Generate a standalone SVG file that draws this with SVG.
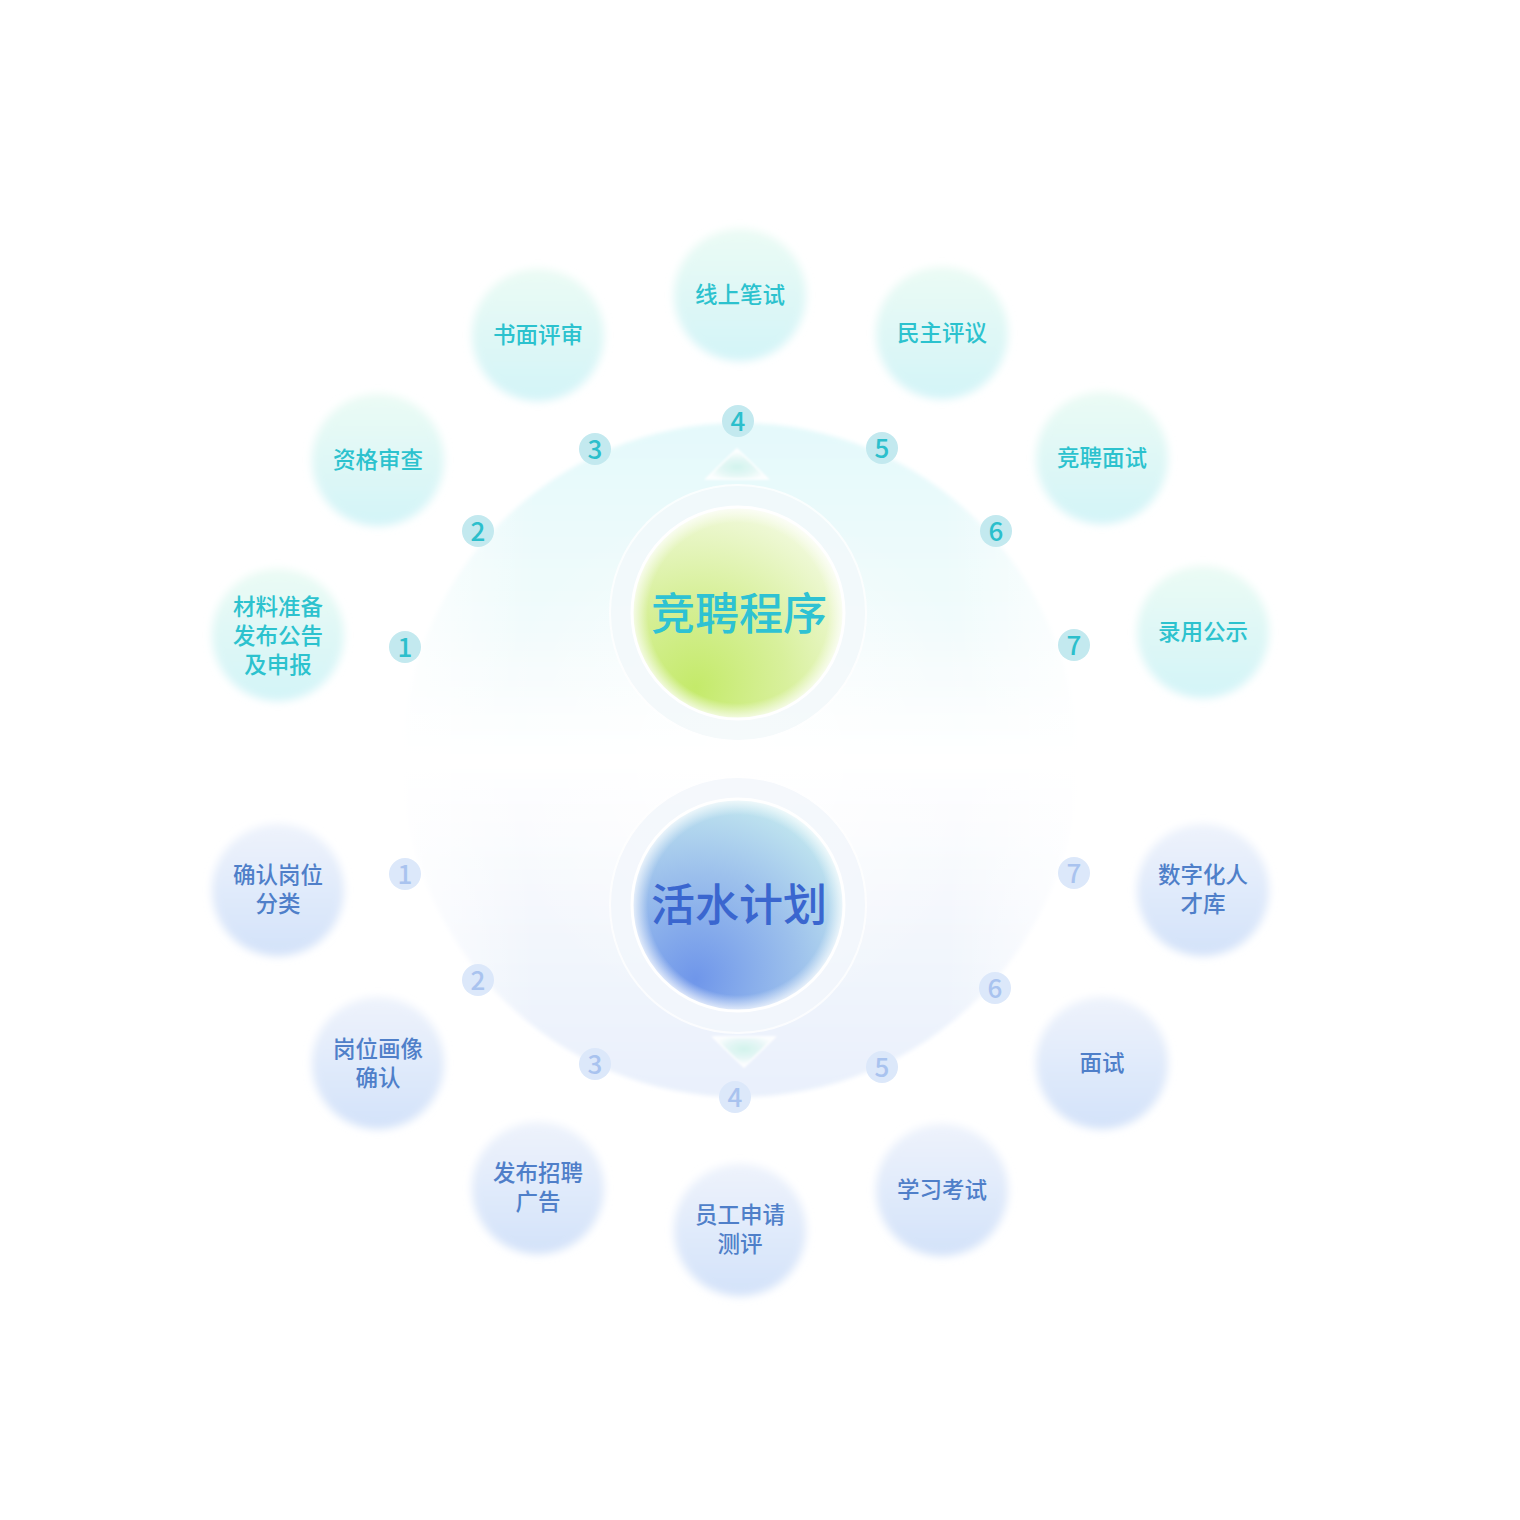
<svg xmlns="http://www.w3.org/2000/svg" width="1520" height="1520" viewBox="0 0 1520 1520">
<defs>
  <linearGradient id="gNodeTop" x1="0" y1="0" x2="0" y2="1">
    <stop offset="0" stop-color="#ebfbf4"/>
    <stop offset="1" stop-color="#d3f4f8"/>
  </linearGradient>
  <linearGradient id="gNodeBot" x1="0" y1="0" x2="0" y2="1">
    <stop offset="0" stop-color="#eef3fc"/>
    <stop offset="1" stop-color="#d3e2f9"/>
  </linearGradient>
  <linearGradient id="gRing" x1="0" y1="0" x2="0" y2="1">
    <stop offset="0" stop-color="#e4f9fb"/>
    <stop offset="0.3" stop-color="#f1fbfc"/>
    <stop offset="0.5" stop-color="#ffffff"/>
    <stop offset="0.7" stop-color="#f5f8fd"/>
    <stop offset="1" stop-color="#e9f0fc"/>
  </linearGradient>
  <radialGradient id="gRingFade" cx="0.5" cy="0.5" r="0.5">
    <stop offset="0" stop-color="#ffffff" stop-opacity="0.9"/>
    <stop offset="0.6" stop-color="#ffffff" stop-opacity="0.3"/>
    <stop offset="1" stop-color="#ffffff" stop-opacity="0"/>
  </radialGradient>
  <linearGradient id="gSideFade" x1="0" y1="0" x2="1" y2="0">
    <stop offset="0" stop-color="#ffffff" stop-opacity="0.8"/>
    <stop offset="0.2" stop-color="#ffffff" stop-opacity="0"/>
    <stop offset="0.8" stop-color="#ffffff" stop-opacity="0"/>
    <stop offset="1" stop-color="#ffffff" stop-opacity="0.8"/>
  </linearGradient>
  <radialGradient id="gGreen" cx="0.3" cy="0.8" r="0.95" fx="0.3" fy="0.85">
    <stop offset="0" stop-color="#c4ea6a"/>
    <stop offset="0.45" stop-color="#d8f09c"/>
    <stop offset="1" stop-color="#f8fcee"/>
  </radialGradient>
  <radialGradient id="gBlue" cx="0.3" cy="0.8" r="0.95" fx="0.3" fy="0.85">
    <stop offset="0" stop-color="#6f96ea"/>
    <stop offset="0.5" stop-color="#9cc0ec"/>
    <stop offset="1" stop-color="#cdf2f0"/>
  </radialGradient>
  <radialGradient id="gEdgeGlow" cx="0.5" cy="0.5" r="0.5">
    <stop offset="0.85" stop-color="#ffffff" stop-opacity="0"/>
    <stop offset="1" stop-color="#ffffff" stop-opacity="0.8"/>
  </radialGradient>
  <radialGradient id="gTri" cx="0.5" cy="0.6" r="0.5">
    <stop offset="0" stop-color="#d2f3ee"/>
    <stop offset="0.6" stop-color="#e6f8f6"/>
    <stop offset="1" stop-color="#fbfefe"/>
  </radialGradient>
  <radialGradient id="gTri2" cx="0.5" cy="0.4" r="0.5">
    <stop offset="0" stop-color="#d2f3ec"/>
    <stop offset="0.6" stop-color="#e6f6f6"/>
    <stop offset="1" stop-color="#fbfdfe"/>
  </radialGradient>
  <filter id="soft" x="-20%" y="-20%" width="140%" height="140%">
    <feGaussianBlur stdDeviation="4"/>
  </filter>
  <filter id="softer" x="-20%" y="-20%" width="140%" height="140%">
    <feGaussianBlur stdDeviation="0.8"/>
  </filter>
  <filter id="ringBlur" x="-10%" y="-10%" width="120%" height="120%">
    <feGaussianBlur stdDeviation="2"/>
  </filter>
</defs>
<style>
  text { font-family: "Noto Sans CJK SC", "Noto Sans", sans-serif; text-anchor: middle; font-weight: 500; }
  .lt { font-size: 22.5px; fill: #2cc2ce; }
  .lb { font-size: 22.5px; fill: #4f7fc9; }
  .nt { font-size: 26px; fill: #2cbfcc; }
  .nb { font-size: 26px; fill: #a9c3ef; }
  .bt { fill: #c3e9ef; }
  .bb { fill: #dce8fa; }
  .ct { font-size: 44px; fill: #2ec2d3; }
  .cb { font-size: 44px; fill: #3a66cf; }
  .node-top { fill: url(#gNodeTop); filter: url(#soft); }
  .node-bot { fill: url(#gNodeBot); filter: url(#soft); }
</style>
<rect width="1520" height="1520" fill="#ffffff"/>

<g id="connectors">
  <circle cx="740" cy="760" r="337" fill="url(#gRing)" filter="url(#ringBlur)"/>
  <rect x="400" y="420" width="680" height="680" fill="url(#gSideFade)"/>
  <circle cx="740" cy="760" r="260" fill="url(#gRingFade)"/>
</g>

<g id="badges-top">
  <circle class="bt" cx="405" cy="647" r="16"/><text class="nt" x="405" y="657">1</text>
  <circle class="bt" cx="478" cy="531" r="16"/><text class="nt" x="478" y="541">2</text>
  <circle class="bt" cx="595" cy="449" r="16"/><text class="nt" x="595" y="459">3</text>
  <circle class="bt" cx="738" cy="421" r="16"/><text class="nt" x="738" y="431">4</text>
  <circle class="bt" cx="882" cy="448" r="16"/><text class="nt" x="882" y="458">5</text>
  <circle class="bt" cx="996" cy="531" r="16"/><text class="nt" x="996" y="541">6</text>
  <circle class="bt" cx="1074" cy="645" r="16"/><text class="nt" x="1074" y="655">7</text>
</g>
<g id="badges-bottom">
  <circle class="bb" cx="405" cy="874" r="16"/><text class="nb" x="405" y="884">1</text>
  <circle class="bb" cx="478" cy="980" r="16"/><text class="nb" x="478" y="990">2</text>
  <circle class="bb" cx="595" cy="1064" r="16"/><text class="nb" x="595" y="1074">3</text>
  <circle class="bb" cx="735" cy="1097" r="16"/><text class="nb" x="735" y="1107">4</text>
  <circle class="bb" cx="882" cy="1067" r="16"/><text class="nb" x="882" y="1077">5</text>
  <circle class="bb" cx="995" cy="988" r="16"/><text class="nb" x="995" y="998">6</text>
  <circle class="bb" cx="1074" cy="873" r="16"/><text class="nb" x="1074" y="883">7</text>
</g>

<g id="center-top">
  <circle cx="738" cy="613" r="128" fill="#f3f9fb" stroke="#ffffff" stroke-width="2" opacity="0.8"/>
  <circle cx="738" cy="613" r="106" fill="url(#gGreen)" stroke="#ffffff" stroke-width="3"/>
  <circle cx="738" cy="613" r="106" fill="url(#gEdgeGlow)"/>
  <text class="ct" x="739" y="630">竞聘程序</text>
</g>
<g id="center-bottom">
  <circle cx="738" cy="905" r="128" fill="#f3f7fc" stroke="#ffffff" stroke-width="2" opacity="0.8"/>
  <circle cx="738" cy="905" r="106" fill="url(#gBlue)" stroke="#ffffff" stroke-width="3"/>
  <circle cx="738" cy="905" r="106" fill="url(#gEdgeGlow)"/>
  <text class="cb" x="739" y="921">活水计划</text>
</g>

<g id="arrows">
  <polygon points="737,449 768,479 706,479" fill="url(#gTri)" stroke="#ffffff" stroke-width="1.5" filter="url(#softer)"/>
  <polygon points="713,1037 775,1037 744,1067" fill="url(#gTri2)" stroke="#ffffff" stroke-width="1.5" filter="url(#softer)"/>
</g>

<g id="node-t1"><circle class="node-top" cx="278" cy="635" r="66"/>
  <text class="lt" x="278" y="615">材料准备</text><text class="lt" x="278" y="644">发布公告</text><text class="lt" x="278" y="673">及申报</text></g>
<g id="node-t2"><circle class="node-top" cx="378" cy="460" r="66"/><text class="lt" x="378" y="468">资格审查</text></g>
<g id="node-t3"><circle class="node-top" cx="538" cy="335" r="66"/><text class="lt" x="538" y="343">书面评审</text></g>
<g id="node-t4"><circle class="node-top" cx="740" cy="295" r="66"/><text class="lt" x="740" y="303">线上笔试</text></g>
<g id="node-t5"><circle class="node-top" cx="942" cy="333" r="66"/><text class="lt" x="942" y="341">民主评议</text></g>
<g id="node-t6"><circle class="node-top" cx="1102" cy="458" r="66"/><text class="lt" x="1102" y="466">竞聘面试</text></g>
<g id="node-t7"><circle class="node-top" cx="1203" cy="632" r="66"/><text class="lt" x="1203" y="640">录用公示</text></g>

<g id="node-b1"><circle class="node-bot" cx="278" cy="890" r="66"/>
  <text class="lb" x="278" y="883">确认岗位</text><text class="lb" x="278" y="912">分类</text></g>
<g id="node-b2"><circle class="node-bot" cx="378" cy="1063" r="66"/>
  <text class="lb" x="378" y="1057">岗位画像</text><text class="lb" x="378" y="1086">确认</text></g>
<g id="node-b3"><circle class="node-bot" cx="538" cy="1188" r="66"/>
  <text class="lb" x="538" y="1181">发布招聘</text><text class="lb" x="538" y="1210">广告</text></g>
<g id="node-b4"><circle class="node-bot" cx="740" cy="1230" r="66"/>
  <text class="lb" x="740" y="1223">员工申请</text><text class="lb" x="740" y="1252">测评</text></g>
<g id="node-b5"><circle class="node-bot" cx="942" cy="1190" r="66"/><text class="lb" x="942" y="1198">学习考试</text></g>
<g id="node-b6"><circle class="node-bot" cx="1102" cy="1063" r="66"/><text class="lb" x="1102" y="1071">面试</text></g>
<g id="node-b7"><circle class="node-bot" cx="1203" cy="890" r="66"/>
  <text class="lb" x="1203" y="883">数字化人</text><text class="lb" x="1203" y="912">才库</text></g>
</svg>
